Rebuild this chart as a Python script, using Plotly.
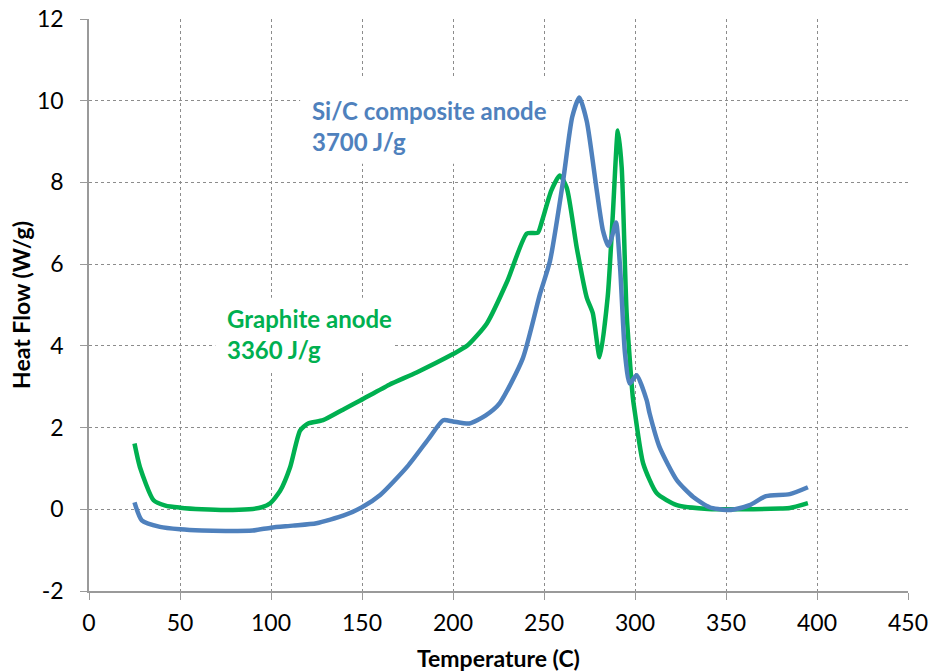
import plotly.graph_objects as go

# Graphite anode DSC trace
graphite_t = [25, 28, 35.5, 42, 50, 62, 75, 88, 95, 99.6, 105, 110.5, 116, 120.4, 128.6, 140, 149,
              165, 180, 200, 207.7, 218.6, 230, 240.6, 246.6, 249, 254, 258.7, 262.5, 268, 273.5,
              276.8, 280.6, 285, 287.8, 290.6, 292.7, 295.4, 298.8, 300, 304.5, 312, 323, 340,
              360, 380, 385, 395]
graphite_hf = [1.61, 1.03, 0.22, 0.09, 0.04, 0.0, -0.02, 0.0, 0.05, 0.15, 0.45, 1.03, 1.93, 2.1,
               2.18, 2.45, 2.66, 3.05, 3.35, 3.8, 4.0, 4.55, 5.6, 6.75, 6.77, 7.07, 7.8, 8.17, 7.87,
               6.4, 5.18, 4.8, 3.72, 5.2, 7.2, 9.27, 8.36, 4.8, 2.74, 2.35, 1.12, 0.39, 0.1, 0.01,
               0.0, 0.02, 0.03, 0.15]

# Si/C composite anode DSC trace
sic_t = [25, 29, 39, 50, 62, 75, 90, 100, 112, 125, 140, 150, 160, 175, 187, 194.6, 200, 209,
         218, 225.7, 238.4, 247.8, 253.3, 260.5, 265.5, 269.4, 273.5, 279, 282.4, 285.3, 287.2,
         289.6, 291.8, 294.5, 297.1, 300.9, 306.4, 308, 313.5, 323, 332, 341, 350, 355, 363,
         372, 385, 395]
sic_hf = [0.17, -0.27, -0.43, -0.49, -0.52, -0.53, -0.52, -0.45, -0.4, -0.34, -0.15, 0.05, 0.35,
          1.05, 1.75, 2.18, 2.15, 2.1, 2.3, 2.6, 3.7, 5.27, 6.08, 8.04, 9.6, 10.08, 9.5, 7.8, 6.82,
          6.45, 6.65, 7.02, 5.92, 3.81, 3.08, 3.28, 2.67, 2.35, 1.52, 0.71, 0.3, 0.05, -0.02, 0.0,
          0.1, 0.32, 0.37, 0.54]

x_ticks = [0, 50, 100, 150, 200, 250, 300, 350, 400, 450]
y_ticks = [-2, 0, 2, 4, 6, 8, 10, 12]
y_ticktext = ["-2", "0", "2", "4", "6", "8", "10", "12"]

blue = "#4F81BD"
green = "#00B050"
font = "Lato"

fig = go.Figure()
fig.add_trace(go.Scatter(x=graphite_t, y=graphite_hf, mode="lines",
                         line=dict(color=green, width=4.5, shape="spline", smoothing=0.6)))
fig.add_trace(go.Scatter(x=sic_t, y=sic_hf, mode="lines",
                         line=dict(color=blue, width=4.5, shape="spline", smoothing=0.6)))

# white boxes behind the labels hide the gridlines but not the curves
fig.add_shape(type="rect", x0=116, x1=252, y0=8.46, y1=10.6, layer="between",
              fillcolor="white", line=dict(width=0))
fig.add_shape(type="rect", x0=69.4, x1=168, y0=3.4, y1=5.18, layer="between",
              fillcolor="white", line=dict(width=0))

fig.add_annotation(x=121.6, y=9.38, xref="x", yref="y", xanchor="left", yanchor="middle",
                   text="<b>Si/C composite anode<br>3700 J/g</b>", align="left", showarrow=False,
                   font=dict(family=font, size=24, color=blue))
fig.add_annotation(x=74.9, y=4.30, xref="x", yref="y", xanchor="left", yanchor="middle",
                   text="<b>Graphite anode<br>3360 J/g</b>", align="left", showarrow=False,
                   font=dict(family=font, size=24, color=green))

fig.update_layout(
    width=929, height=672,
    margin=dict(l=89, r=21, t=19, b=81),
    paper_bgcolor="white", plot_bgcolor="white",
    showlegend=False,
    font=dict(family=font, size=23, color="black"),
)
fig.update_xaxes(range=[0, 450], tickvals=x_ticks, showgrid=True, gridcolor="#8c8c8c",
                 griddash="dot", gridwidth=1, zeroline=False, showline=True, linecolor="#9a9a9a",
                 linewidth=1.5, ticks="outside", ticklen=7, tickcolor="#9a9a9a",
                 ticklabelstandoff=4, ticklabeloverflow="allow", automargin=False,
                 title=dict(text="<b>Temperature (C)</b>", font=dict(size=23), standoff=16))
fig.update_yaxes(range=[-2, 12], tickvals=y_ticks, ticktext=y_ticktext, showgrid=True,
                 gridcolor="#8c8c8c", griddash="dot", gridwidth=1, zeroline=False, showline=True,
                 linecolor="#9a9a9a", linewidth=1.5, ticks="outside", ticklen=7,
                 tickcolor="#9a9a9a", ticklabelstandoff=12, ticklabeloverflow="allow",
                 automargin=False,
                 title=dict(text="<b>Heat Flow (W/g)</b>", font=dict(size=23), standoff=0))

# drop the default 8px page margin so the figure fills the window exactly
fig.write_html("out.html", config={"displayModeBar": False},
               post_script="document.body.style.margin='0';document.body.style.overflow='hidden';")
